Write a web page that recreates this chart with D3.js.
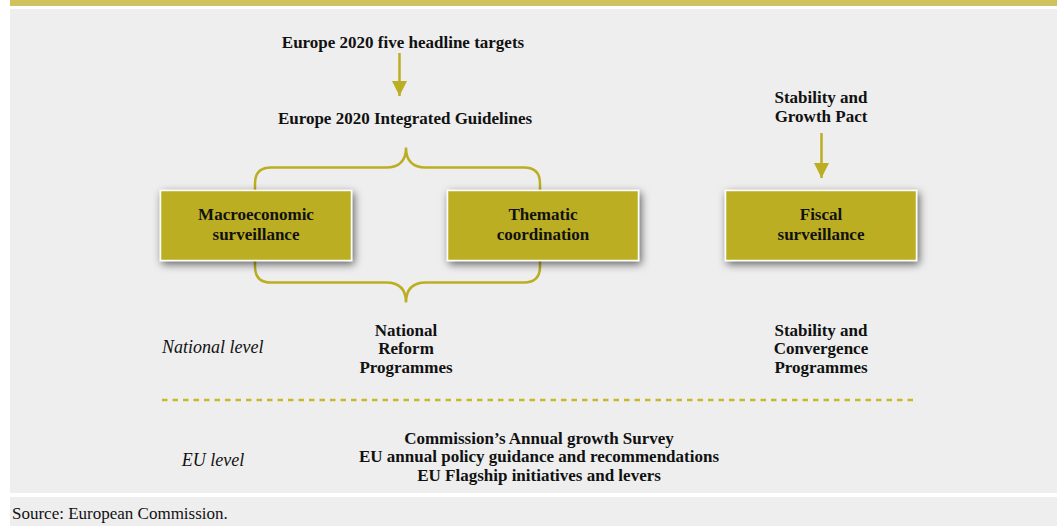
<!DOCTYPE html>
<html>
<head>
<meta charset="utf-8">
<script src="https://cdn.jsdelivr.net/npm/d3@7"></script>
<style>
  html, body { margin: 0; padding: 0; background: #fff; }
  svg { display: block; }
  text { font-family: "Liberation Serif", "Times New Roman", serif; fill: #111; }
</style>
</head>
<body>
<svg id="chart" width="1057" height="526"></svg>
<script>
// diagram content
const topTargets = "Europe 2020 five headline targets";
const guidelines = "Europe 2020 Integrated Guidelines";
const pactLines = ["Stability and", "Growth Pact"];
const boxLabels = [
  ["Macroeconomic", "surveillance"],
  ["Thematic", "coordination"],
  ["Fiscal", "surveillance"]
];
const levelLabels = ["National level", "EU level"];
const nationalProgrammes = [
  ["National", "Reform", "Programmes"],
  ["Stability and", "Convergence", "Programmes"]
];
const euLines = [
  "Commission\u2019s Annual growth Survey",
  "EU annual policy guidance and recommendations",
  "EU Flagship initiatives and levers"
];
const source = "Source: European Commission.";

const gold = "#bbae22";
const band = "#d0c35f";
const panel = "#eeeeee";
const fs = 17;

const svg = d3.select("#chart");

// shadow for boxes
const defs = svg.append("defs");
const f = defs.append("filter").attr("id", "shadow")
  .attr("x", "-20%").attr("y", "-30%").attr("width", "140%").attr("height", "160%");
f.append("feDropShadow").attr("dx", 2).attr("dy", 3)
  .attr("stdDeviation", 4.5).attr("flood-color", "#000").attr("flood-opacity", 0.6);

const arrowDef = defs.append("marker").attr("id", "arrow")
  .attr("viewBox", "0 0 10 10").attr("refX", 10).attr("refY", 5)
  .attr("markerUnits", "userSpaceOnUse")
  .attr("markerWidth", 15).attr("markerHeight", 16).attr("orient", "auto");
arrowDef.append("path").attr("d", "M0,0 L10,5 L0,10 Z").attr("fill", gold);

// backgrounds
svg.append("rect").attr("x", 10).attr("y", 0).attr("width", 1047).attr("height", 6).attr("fill", band);
svg.append("rect").attr("x", 10).attr("y", 9).attr("width", 1047).attr("height", 484).attr("fill", panel);
svg.append("rect").attr("x", 10).attr("y", 497).attr("width", 1047).attr("height", 29).attr("fill", panel);

// column centres
const col = d3.scaleOrdinal().domain([0, 1, 2]).range([256, 543, 821]);
const boxW = 191, boxH = 70, boxTop = 190.5;
const braceMid = 406;

function bold(t, x, y, anchor = "middle") {
  return svg.append("text").attr("x", x).attr("y", y)
    .attr("text-anchor", anchor).attr("font-size", fs).attr("font-weight", "bold").text(t);
}

// header texts and arrow
bold(topTargets, 403, 48);
svg.append("line").attr("x1", 399.5).attr("y1", 53).attr("x2", 399.5).attr("y2", 96)
  .attr("stroke", gold).attr("stroke-width", 2.5).attr("marker-end", "url(#arrow)");
bold(guidelines, 405, 124);

pactLines.forEach((t, i) => bold(t, 821, 103 + i * 19));
svg.append("line").attr("x1", 821.5).attr("y1", 133).attr("x2", 821.5).attr("y2", 178)
  .attr("stroke", gold).attr("stroke-width", 2.5).attr("marker-end", "url(#arrow)");

// braces
const xl = 255, xr = 540, r = 16;
function brace(yEdge, yLine, yPeak) {
  const s = Math.sign(yLine - yEdge);
  const p = d3.path();
  p.moveTo(xl, yEdge);
  p.lineTo(xl, yLine - s * r);
  p.quadraticCurveTo(xl, yLine, xl + r, yLine);
  p.lineTo(braceMid - 20, yLine);
  p.quadraticCurveTo(braceMid, yLine, braceMid, yPeak);
  p.quadraticCurveTo(braceMid, yLine, braceMid + 20, yLine);
  p.lineTo(xr - r, yLine);
  p.quadraticCurveTo(xr, yLine, xr, yLine - s * r);
  p.lineTo(xr, yEdge);
  return p.toString();
}
svg.append("path").attr("d", brace(boxTop, 167.5, 147.5))
  .attr("fill", "none").attr("stroke", gold).attr("stroke-width", 2.5);
svg.append("path").attr("d", brace(boxTop + boxH, 282.5, 302.5))
  .attr("fill", "none").attr("stroke", gold).attr("stroke-width", 2.5);

// boxes
const boxes = svg.selectAll("g.box").data(boxLabels).join("g").attr("class", "box");
boxes.append("rect")
  .attr("x", (d, i) => col(i) - boxW / 2).attr("y", boxTop)
  .attr("width", boxW).attr("height", boxH)
  .attr("fill", gold).attr("stroke", "#fff").attr("stroke-width", 1.5)
  .attr("filter", "url(#shadow)");
boxes.each(function (d, i) {
  d.forEach((t, j) => {
    d3.select(this).append("text").attr("x", col(i)).attr("y", 220 + j * 19.5)
      .attr("text-anchor", "middle").attr("font-size", fs).attr("font-weight", "bold").text(t);
  });
});

// level labels
svg.append("text").attr("x", 162).attr("y", 353).attr("font-size", 18)
  .attr("font-style", "italic").text(levelLabels[0]);
svg.append("text").attr("x", 213).attr("y", 466).attr("text-anchor", "middle").attr("font-size", 18)
  .attr("font-style", "italic").text(levelLabels[1]);

// national programmes
const progX = [406, 821];
nationalProgrammes.forEach((lines, k) => {
  lines.forEach((t, j) => bold(t, progX[k], 335.5 + j * 18.5));
});

// divider
svg.append("line").attr("x1", 162).attr("y1", 400).attr("x2", 913).attr("y2", 400)
  .attr("stroke", "#c9b92a").attr("stroke-width", 2.5).attr("stroke-dasharray", "5.5,5");

// EU level lines
euLines.forEach((t, j) => bold(t, 539, 443.5 + j * 18.5));

// source
svg.append("text").attr("x", 12).attr("y", 519).attr("font-size", 17).text(source);
</script>
</body>
</html>
